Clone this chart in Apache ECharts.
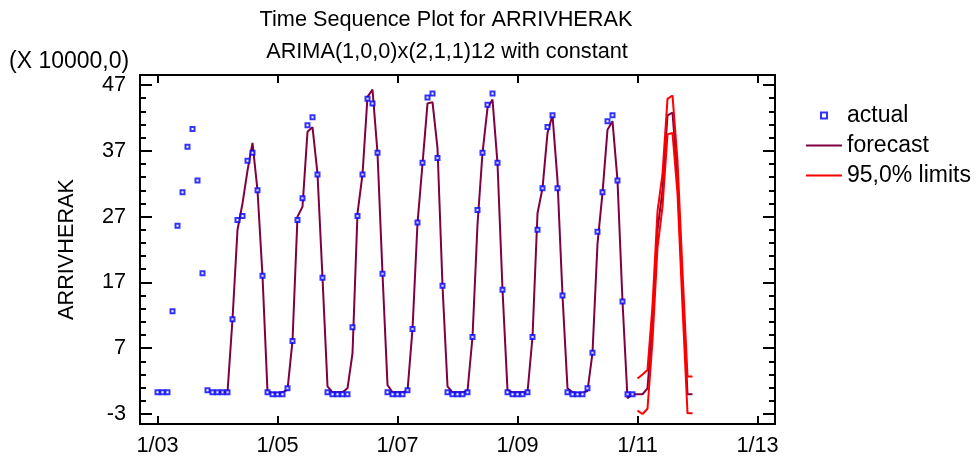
<!DOCTYPE html>
<html>
<head>
<meta charset="utf-8">
<script src="https://cdn.jsdelivr.net/npm/echarts@6/dist/echarts.min.js"></script>
<style>
  html, body { margin: 0; padding: 0; background: #fff; }
  #chart { width: 976px; height: 459px; }
</style>
</head>
<body>
<div id="chart"></div>
<script>
// Month index 0 = Jan 2003 (values in units of 10000)
const actual = [
  0.3, 0.3, 0.3, 12.6, 25.6, 30.7, 37.6, 40.3, 32.5, 18.4, 0.6, 0.3,
  0.3, 0.3, 0.3, 11.4, 26.5, 27.1, 35.5, 36.7, 31.0, 18.0, 0.3, 0.0,
  0.0, 0.0, 0.9, 8.1, 26.5, 29.8, 40.9, 42.1, 33.4, 17.7, 0.3, 0.0,
  0.0, 0.0, 0.0, 10.2, 27.1, 33.4, 44.9, 44.2, 36.7, 18.3, 0.3, 0.0,
  0.0, 0.0, 0.6, 9.9, 26.1, 35.2, 45.1, 45.7, 35.9, 16.5, 0.3, 0.0,
  0.0, 0.0, 0.3, 8.7, 28.0, 36.7, 44.0, 45.7, 35.2, 15.9, 0.3, 0.0,
  0.0, 0.0, 0.3, 8.7, 25.0, 31.3, 40.6, 42.4, 31.3, 15.0, 0.3, 0.0,
  0.0, 0.0, 0.9, 6.3, 24.7, 30.7, 41.5, 42.4, 32.5, 14.1, 0.0, 0.0
];
const forecastStart = 12; // Jan 2004
const forecast = [
  0.3, 0.3, 0.3, 11.4, 25.0, 29.0, 34.0, 38.2, 31.0, 18.0, 0.4, 0.2,
  0.2, 0.3, 0.7, 8.1, 27.0, 28.5, 39.9, 40.6, 33.5, 17.7, 1.2, 0.3,
  0.3, 0.3, 0.9, 6.2, 27.5, 33.4, 45.2, 46.3, 36.7, 18.3, 1.4, 0.3,
  0.3, 0.3, 0.5, 9.9, 26.0, 35.0, 44.2, 44.4, 37.4, 16.5, 1.2, 0.3,
  0.3, 0.3, 0.5, 8.7, 25.8, 36.7, 43.5, 44.8, 35.1, 15.9, 0.6, 0.3,
  0.3, 0.3, 0.3, 8.7, 27.5, 31.3, 39.7, 42.4, 32.5, 15.0, 0.9, 0.3,
  0.2, 0.2, 0.5, 6.3, 22.9, 30.6, 40.2, 41.5, 32.5, 14.1, -0.6, 0.0,
  0.0, 0.0, 0.9, 10.8, 25.0, 31.0, 42.4, 42.8, 33.0, 16.0, 0.0, 0.0
];
const limitsStart = 96; // Jan 2011
const upper95 = [2.4, 3.0, 3.7, 13.5, 27.8, 33.5, 44.9, 45.4, 35.5, 18.7, 2.7, 2.7];
const lower95 = [-2.5, -3.0, -2.2, 8.1, 22.3, 28.5, 39.5, 39.7, 30.5, 13.3, -2.9, -2.9];

const xTickMonths = [0, 24, 48, 72, 96, 120];
const xTickLabels = ['1/03', '1/05', '1/07', '1/09', '1/11', '1/13'];
const yMajorTicks = [-3, 7, 17, 27, 37, 47];
const yMinorTicks = [-1, 1, 3, 5, 9, 11, 13, 15, 19, 21, 23, 25, 29, 31, 33, 35, 39, 41, 43, 45];

const FONT = '"Liberation Sans", Arial, sans-serif';
const FS = 21.7;
const FS_TITLE = 21.7;
const FS_BIG = 23;

const FORECAST_COLOR = '#800040';
const LIMIT_COLOR = '#ff0000';
const ACTUAL_COLOR = '#0000ff';

const toPairs = (arr, start) => arr.map((v, i) => [start + i, v]);

const chart = echarts.init(document.getElementById('chart'), null, { renderer: 'canvas' });

const xBase = {
  type: 'value', min: -3.5, max: 123.5,
  splitLine: { show: false },
  axisLine: { show: true, onZero: false, lineStyle: { color: '#000', width: 2 } },
  axisTick: { show: true, inside: true, length: 8, customValues: xTickMonths, lineStyle: { color: '#000', width: 2 } }
};
const yBase = {
  type: 'value', min: -4.52, max: 48.52,
  splitLine: { show: false },
  axisLine: { show: true, onZero: false, lineStyle: { color: '#000', width: 2 } }
};

const textEl = (text, x, y, size, align) => ({
  type: 'text', x: x, y: y,
  style: { text: text, font: size + 'px ' + FONT, fill: '#000', align: align, verticalAlign: 'middle', textAlign: align, textVerticalAlign: 'middle' }
});

const option = {
  animation: false,
  backgroundColor: '#fff',
  textStyle: { fontFamily: FONT },
  grid: { left: 140, right: 201, top: 75, bottom: 35, containLabel: false },
  graphic: [
    textEl('Time Sequence Plot for ARRIVHERAK', 446, 20, FS_TITLE, 'center'),
    textEl('ARIMA(1,0,0)x(2,1,1)12 with constant', 447, 52, FS_TITLE, 'center'),
    textEl('(X 10000,0)', 9, 62, FS_BIG, 'left')
  ],
  legend: {
    orient: 'vertical', left: 800, top: 99, itemWidth: 36, itemHeight: 14, itemGap: 7,
    textStyle: { fontSize: FS_BIG, color: '#000', fontFamily: FONT },
    data: [
      { name: 'actual', icon: 'path://M0,0M36,14M15,4h6v6h-6z', itemStyle: { color: '#fff', borderColor: ACTUAL_COLOR, borderWidth: 2 } },
      { name: 'forecast', icon: 'path://M0,0M36,14M0,6h36v2h-36z', itemStyle: { color: FORECAST_COLOR, borderWidth: 0 } },
      { name: '95,0% limits', icon: 'path://M0,0M36,14M0,6h36v2h-36z', itemStyle: { color: LIMIT_COLOR, borderWidth: 0 } }
    ]
  },
  xAxis: [
    Object.assign({}, xBase, {
      position: 'bottom',
      axisLabel: { show: true, customValues: xTickMonths, margin: 11, fontSize: FS, color: '#000', fontFamily: FONT,
        formatter: v => xTickLabels[xTickMonths.indexOf(Math.round(v))] || '' }
    }),
    Object.assign({}, xBase, { position: 'top', axisLabel: { show: false } })
  ],
  yAxis: [
    Object.assign({}, yBase, {
      position: 'left',
      name: 'ARRIVHERAK', nameLocation: 'middle', nameGap: 62,
      nameTextStyle: { fontSize: FS_TITLE, color: '#000', fontFamily: FONT },
      axisTick: { show: true, inside: true, length: 12, customValues: yMajorTicks, lineStyle: { color: '#000', width: 2 } },
      axisLabel: { show: true, customValues: yMajorTicks, margin: 14, fontSize: FS, color: '#000', fontFamily: FONT }
    }),
    Object.assign({}, yBase, {
      position: 'left',
      axisTick: { show: true, inside: true, length: 6, customValues: yMinorTicks, lineStyle: { color: '#000', width: 2 } },
      axisLabel: { show: false }
    }),
    Object.assign({}, yBase, {
      position: 'right',
      axisTick: { show: true, inside: true, length: 12, customValues: yMajorTicks, lineStyle: { color: '#000', width: 2 } },
      axisLabel: { show: false }
    }),
    Object.assign({}, yBase, {
      position: 'right',
      axisTick: { show: true, inside: true, length: 6, customValues: yMinorTicks, lineStyle: { color: '#000', width: 2 } },
      axisLabel: { show: false }
    })
  ],
  series: [
    {
      name: 'forecast', type: 'line', xAxisIndex: 0, yAxisIndex: 0, z: 2,
      data: toPairs(forecast, forecastStart),
      symbol: 'none', showSymbol: false,
      lineStyle: { color: FORECAST_COLOR, width: 2 }, itemStyle: { color: FORECAST_COLOR }
    },
    {
      name: '95,0% limits', type: 'line', xAxisIndex: 0, yAxisIndex: 0, z: 3,
      data: toPairs(upper95, limitsStart),
      symbol: 'none', showSymbol: false,
      lineStyle: { color: LIMIT_COLOR, width: 2 }, itemStyle: { color: LIMIT_COLOR }
    },
    {
      name: '95,0% limits', type: 'line', xAxisIndex: 0, yAxisIndex: 0, z: 3,
      data: toPairs(lower95, limitsStart),
      symbol: 'none', showSymbol: false,
      lineStyle: { color: LIMIT_COLOR, width: 2 }, itemStyle: { color: LIMIT_COLOR }
    },
    {
      name: 'actual', type: 'scatter', xAxisIndex: 0, yAxisIndex: 0, z: 4,
      data: toPairs(actual, 0),
      symbol: 'emptyRect', symbolSize: 4,
      itemStyle: { color: ACTUAL_COLOR }
    }
  ]
};
chart.setOption(option);
</script>
</body>
</html>
